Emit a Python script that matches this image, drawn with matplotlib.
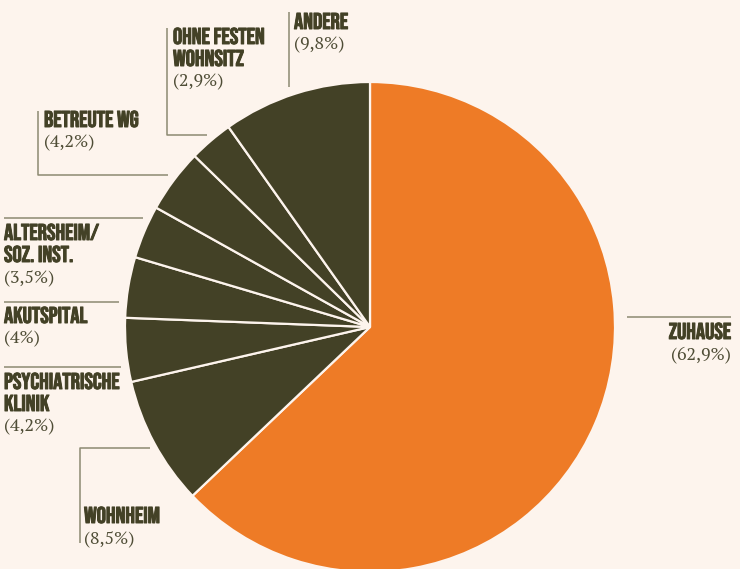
import matplotlib.pyplot as plt
import matplotlib.patheffects as pe

# data
labels = ["ZUHAUSE", "WOHNHEIM", "PSYCHIATRISCHE\nKLINIK", "AKUTSPITAL",
          "ALTERSHEIM/\nSOZ. INST.", "BETREUTE WG", "OHNE FESTEN\nWOHNSITZ", "ANDERE"]
shares = [62.9, 8.5, 4.2, 4.0, 3.5, 4.2, 2.9, 9.8]
pct_labels = ["(62,9%)", "(8,5%)", "(4,2%)", "(4%)", "(3,5%)", "(4,2%)", "(2,9%)", "(9,8%)"]

# layout (pixel coords, y measured from top): x, baseline of first line, alignment
W, H = 740, 569
anchors = [(731, 339, "right"), (84, 523, "left"), (4, 389, "left"), (4, 323, "left"),
           (4, 240, "left"), (44, 127, "left"), (173, 44, "left"), (294, 29, "left")]
leaders = [
    [(627, 317), (731, 317)],
    [(150, 448), (80, 448), (80, 543)],
    [(4, 367), (121, 367)],
    [(4, 302), (119, 302)],
    [(4, 218), (143, 218)],
    [(38, 111), (38, 175), (168, 175)],
    [(167, 28), (167, 135), (207, 135)],
    [(289, 12), (289, 87)],
]

bg = "#fdf4ed"
orange = "#ee7b26"
dark = "#434126"
line_col = "#8c8a72"
colors = [orange] + [dark] * 7

fig = plt.figure(figsize=(W / 100, H / 100), dpi=100, facecolor=bg)
ax = fig.add_axes([0, 0, 1, 1])
ax.set_facecolor(bg)

ax.pie(shares, colors=colors, startangle=90, counterclock=False,
       center=(370, H - 327), radius=245,
       wedgeprops=dict(edgecolor=bg, linewidth=1.6))

# a thin stroke makes the condensed face a bit heavier, like the original
heavy = [pe.withStroke(linewidth=0.7, foreground=dark)]
label_font = dict(family=["Bebas Neue", "Barlow Condensed", "DejaVu Sans"], weight="bold",
                  size=16.5, color=dark)
pct_font = dict(family=["PT Serif", "DejaVu Serif"], size=12.8, color="#4f4d36")

for lab, pct, (x, y, ha), pts in zip(labels, pct_labels, anchors, leaders):
    lines = lab.split("\n")
    for i, ln in enumerate(lines):
        ax.text(x, H - (y + 22 * i), ln, ha=ha, va="baseline", path_effects=heavy, **label_font)
    ax.text(x, H - (y + 22 * (len(lines) - 1) + 20), pct, ha=ha, va="baseline", **pct_font)
    xs = [p[0] for p in pts]
    ys = [H - p[1] for p in pts]
    ax.plot(xs, ys, color=line_col, linewidth=1.1, solid_capstyle="butt")

ax.set_xlim(0, W)
ax.set_ylim(0, H)
ax.set_aspect("auto")
ax.axis("off")

fig.savefig("out.png", dpi=100, facecolor=bg)
